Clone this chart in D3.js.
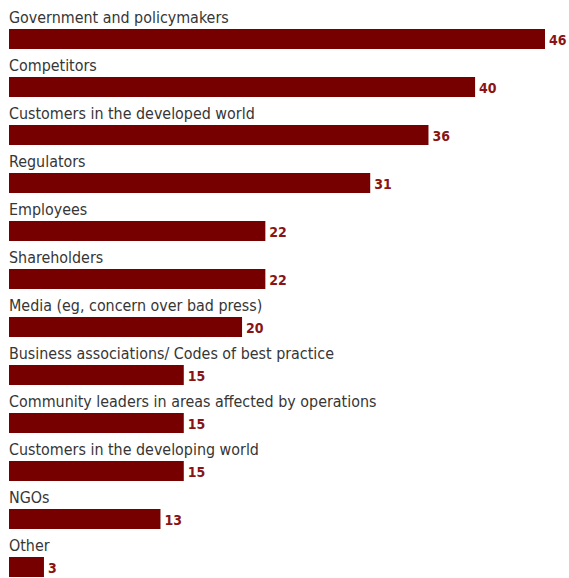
<!DOCTYPE html>
<html>
<head>
<meta charset="utf-8">
<script src="https://cdn.jsdelivr.net/npm/d3@7"></script>
<style>
  html, body { margin: 0; padding: 0; background: #fff; }
  svg { display: block; }
</style>
</head>
<body>
<svg id="chart" width="569" height="578"></svg>
<script>
// Stakeholder categories and their share of respondents (%)
const categories = [
  "Government and policymakers",
  "Competitors",
  "Customers in the developed world",
  "Regulators",
  "Employees",
  "Shareholders",
  "Media (eg, concern over bad press)",
  "Business associations/ Codes of best practice",
  "Community leaders in areas affected by operations",
  "Customers in the developing world",
  "NGOs",
  "Other"
];
const values = [46, 40, 36, 31, 22, 22, 20, 15, 15, 15, 13, 3];

const svg = d3.select("#chart");
const left = 9;
const rowStep = 48;
const barOffset = 29;
const barHeight = 20;
const fontFamily = "'DejaVu Sans Condensed', 'DejaVu Sans', sans-serif";

const x = d3.scaleLinear().domain([0, 46]).range([left, 545]);
const y = d3.scaleBand().domain(categories).range([0, rowStep * categories.length]);

const rows = svg.selectAll("g.row")
  .data(categories.map((c, i) => ({ c, v: values[i] })))
  .join("g")
  .attr("class", "row")
  .attr("transform", d => `translate(0,${y(d.c)})`);

// category label above each bar
rows.append("text")
  .attr("x", left)
  .attr("y", 23)
  .attr("font-family", fontFamily)
  .attr("font-size", 15.9)
  .attr("fill", "#363636")
  .text(d => d.c);

rows.append("rect")
  .attr("x", x(0))
  .attr("y", barOffset)
  .attr("width", d => x(d.v) - x(0))
  .attr("height", barHeight)
  .attr("fill", "#760000");

// value label at the end of each bar
rows.append("text")
  .attr("x", d => x(d.v) + 4)
  .attr("y", barOffset + 16)
  .attr("font-family", fontFamily)
  .attr("font-size", 14)
  .attr("font-weight", "bold")
  .attr("fill", "#8a1414")
  .text(d => d.v);
</script>
</body>
</html>
